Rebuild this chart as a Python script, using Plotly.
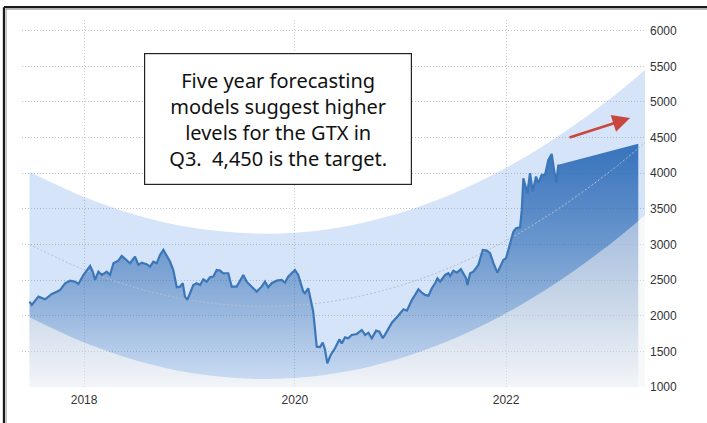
import plotly.graph_objects as go
import pandas as pd

# ---------------- data ----------------
# price history: decimal year, index level
price_t = [2017.482, 2017.504, 2017.536, 2017.567, 2017.630, 2017.694, 2017.741, 2017.773, 2017.820,
           2017.867, 2017.915, 2017.946, 2017.993, 2018.026, 2018.057, 2018.082, 2018.104, 2018.136,
           2018.168, 2018.215, 2018.246, 2018.278, 2018.325, 2018.357, 2018.405, 2018.436, 2018.483,
           2018.515, 2018.547, 2018.594, 2018.626, 2018.657, 2018.689, 2018.720, 2018.752, 2018.784,
           2018.815, 2018.846, 2018.879, 2018.910, 2018.936, 2018.957, 2018.979, 2019.005, 2019.036,
           2019.068, 2019.100, 2019.131, 2019.163, 2019.194, 2019.226, 2019.258, 2019.289, 2019.320,
           2019.368, 2019.400, 2019.447, 2019.479, 2019.510, 2019.542, 2019.590, 2019.637, 2019.684,
           2019.716, 2019.747, 2019.779, 2019.827, 2019.874, 2019.905, 2019.936, 2020.000, 2020.031,
           2020.079, 2020.095, 2020.126, 2020.158, 2020.173, 2020.206, 2020.237, 2020.263, 2020.284,
           2020.306, 2020.338, 2020.379, 2020.420, 2020.443, 2020.474, 2020.505, 2020.537, 2020.585,
           2020.632, 2020.664, 2020.695, 2020.727, 2020.768, 2020.799, 2020.831, 2020.869, 2020.917,
           2020.964, 2020.995, 2021.027, 2021.059, 2021.106, 2021.137, 2021.169, 2021.201, 2021.232,
           2021.264, 2021.296, 2021.327, 2021.349, 2021.374, 2021.422, 2021.453, 2021.469, 2021.500,
           2021.533, 2021.571, 2021.595, 2021.621, 2021.633, 2021.659, 2021.690, 2021.737, 2021.779,
           2021.817, 2021.848, 2021.880, 2021.918, 2021.943, 2021.974, 2022.000, 2022.038, 2022.069,
           2022.095, 2022.133, 2022.149, 2022.164, 2022.190, 2022.202, 2022.227, 2022.253, 2022.284,
           2022.306, 2022.338, 2022.370, 2022.401, 2022.433, 2022.455, 2022.477, 2022.496]
price_v = [2198, 2151, 2212, 2268, 2231, 2306, 2338, 2362, 2456,
           2492, 2478, 2446, 2572, 2643, 2699, 2619, 2502, 2619,
           2572, 2619, 2572, 2737, 2773, 2839, 2783, 2737, 2830,
           2713, 2745, 2723, 2689, 2759, 2737, 2853, 2924, 2830,
           2760, 2640, 2400, 2408, 2456, 2268, 2222, 2316, 2432,
           2456, 2432, 2512, 2478, 2540, 2549, 2643, 2633, 2596,
           2596, 2408, 2408, 2492, 2572, 2478, 2408, 2338, 2408,
           2478, 2400, 2456, 2492, 2502, 2464, 2549, 2643, 2572,
           2338, 2316, 2386, 2175, 2057, 1566, 1560, 1622, 1530,
           1333, 1449, 1543, 1668, 1612, 1697, 1684, 1730, 1744,
           1800, 1730, 1762, 1684, 1791, 1777, 1684, 1777, 1903,
           1978, 2035, 2091, 2071, 2222, 2292, 2372, 2324, 2292,
           2282, 2386, 2456, 2526, 2478, 2572, 2596, 2558, 2633,
           2605, 2652, 2586, 2526, 2432, 2596, 2619, 2713, 2924,
           2914, 2877, 2737, 2605, 2689, 2783, 2807, 3017, 3180,
           3227, 3241, 3485, 3930, 3790, 3719, 4000, 3742, 3953,
           3860, 3977, 3977, 4187, 4270, 4047, 3870, 4120]

# projection from the last close to the target date
forecast_t = [2022.496, 2023.254]
forecast_v = [4120, 4415]

# five-year forecast channel
band_t = [2017.482, 2018.0, 2018.5, 2019.0, 2019.5, 2020.0, 2020.5,
          2021.0, 2021.5, 2022.0, 2022.5, 2023.0, 2023.318]
band_upper = [4020, 3665, 3410, 3240, 3160, 3165, 3260, 3445, 3715, 4075, 4525, 5060, 5450]
band_mid = [3000, 2645, 2390, 2220, 2140, 2145, 2240, 2425, 2695, 3055, 3505, 4040, 4430]
band_lower = [1980, 1625, 1370, 1200, 1120, 1125, 1220, 1405, 1675, 2035, 2485, 3020, 3410]

y_tickvals = [1000, 1500, 2000, 2500, 3000, 3500, 4000, 4500, 5000, 5500, 6000]
y_ticktext = ["1000", "1500", "2000", "2500", "3000", "3500", "4000", "4500", "5000", "5500", "6000"]
x_tickvals = ["2018-01-01", "2020-01-01", "2022-01-01"]
x_ticktext = ["2018", "2020", "2022"]
x_range = ["2017-05-31", "2023-04-27"]
y_range = [1000, 6150]

note_lines = ["Five year forecasting", "models suggest higher",
              "levels for the GTX in", "Q3.\u00a0 4,450 is the target."]


def to_date(t):
    y = int(t)
    a = pd.Timestamp(year=y, month=1, day=1)
    b = pd.Timestamp(year=y + 1, month=1, day=1)
    return a + (b - a) * (t - y)


price_d = [to_date(t) for t in price_t]
forecast_d = [to_date(t) for t in forecast_t]
band_d = [to_date(t) for t in band_t]

fig = go.Figure()

# channel (semi-transparent light blue)
fig.add_trace(go.Scatter(x=band_d, y=band_lower, mode="lines",
                         line=dict(width=0, shape="spline"), hoverinfo="skip", showlegend=False))
fig.add_trace(go.Scatter(x=band_d, y=band_upper, mode="lines", fill="tonexty",
                         fillcolor="rgba(100,155,230,0.27)",
                         line=dict(width=0, shape="spline"), hoverinfo="skip", showlegend=False))

# price area with vertical gradient (history + projection)
fig.add_trace(go.Scatter(
    x=price_d + [forecast_d[-1]], y=price_v + [forecast_v[-1]], mode="lines",
    fill="tozeroy", line=dict(width=0), hoverinfo="skip", showlegend=False,
    fillgradient=dict(type="vertical", start=1000, stop=4500,
                      colorscale=[[0.0, "rgba(35,95,170,0.04)"],
                                  [0.143, "rgba(35,95,170,0.18)"],
                                  [0.343, "rgba(33,95,172,0.38)"],
                                  [0.571, "rgba(30,95,175,0.58)"],
                                  [1.0, "rgba(28,95,178,0.87)"]])))

# lighten the area below the channel (slightly greyish)
fig.add_trace(go.Scatter(x=band_d, y=band_lower, mode="lines", fill="tozeroy",
                         fillcolor="rgba(238,240,244,0.45)",
                         line=dict(width=0, shape="spline"), hoverinfo="skip", showlegend=False))

# channel centre line
fig.add_trace(go.Scatter(x=band_d, y=band_mid, mode="lines",
                         line=dict(width=1, shape="spline", dash="2px,2px", color="rgb(182,192,207)"),
                         hoverinfo="skip", showlegend=False))

# price line
fig.add_trace(go.Scatter(x=price_d, y=price_v, mode="lines",
                         line=dict(width=2.2, color="#3b76b8"),
                         hoverinfo="skip", showlegend=False))

tick_font = dict(family="Liberation Sans Narrow, Arial Narrow, Liberation Sans, Arial", size=12, color="#333333")

fig.update_layout(
    width=707, height=423,
    margin=dict(l=22, r=62, t=20, b=36),
    paper_bgcolor="white", plot_bgcolor="white",
    hovermode=False,
    xaxis=dict(type="date", range=x_range, tickvals=x_tickvals, ticktext=x_ticktext,
               showgrid=True, gridcolor="rgb(205,205,205)", griddash="1px,2px", gridwidth=1,
               zeroline=False, showline=False, ticks="", tickfont=tick_font,
               ticklabelstandoff=4),
    yaxis=dict(range=y_range, tickvals=y_tickvals, ticktext=y_ticktext, side="right",
               showgrid=True, gridcolor="rgb(195,195,195)", griddash="1px,2px", gridwidth=1,
               zeroline=False, showline=False, ticks="", tickfont=tick_font,
               ticklabelstandoff=4),
    font=dict(family="Noto Sans"),
)

# text box
fig.add_annotation(xref="paper", yref="paper", x=0.411, y=0.730, xanchor="center", yanchor="middle",
                   text="<br>".join(note_lines), showarrow=False, align="center",
                   font=dict(family="Noto Sans, DejaVu Sans", size=20, color="#111111"),
                   bgcolor="white", bordercolor="#222222", borderwidth=1.2, borderpad=0,
                   width=266, height=130)

# red arrow
fig.add_annotation(xref="paper", yref="paper", x=0.976, y=0.733, text="", showarrow=True,
                   ax=-62, ay=20, arrowhead=2, arrowsize=1.35, arrowwidth=2.6,
                   arrowcolor="#c9473f")

# outer frame (top and left edges of the screenshot box)
fig.add_shape(type="line", xref="paper", yref="paper", x0=-0.029, x1=1.2, y0=1.035, y1=1.035,
              line=dict(color="#1a1a1a", width=2.2))
fig.add_shape(type="line", xref="paper", yref="paper", x0=-0.029, x1=-0.029, y0=1.035, y1=-0.2,
              line=dict(color="#1a1a1a", width=2.2))
fig.add_shape(type="line", xref="paper", yref="paper", x0=-0.026, x1=1.2, y0=1.029, y1=1.029,
              line=dict(color="rgba(120,120,120,0.5)", width=1.5))
fig.add_shape(type="line", xref="paper", yref="paper", x0=-0.0255, x1=-0.0255, y0=1.029, y1=-0.2,
              line=dict(color="rgba(120,120,120,0.5)", width=1.5))

fig.write_html("out.html")
